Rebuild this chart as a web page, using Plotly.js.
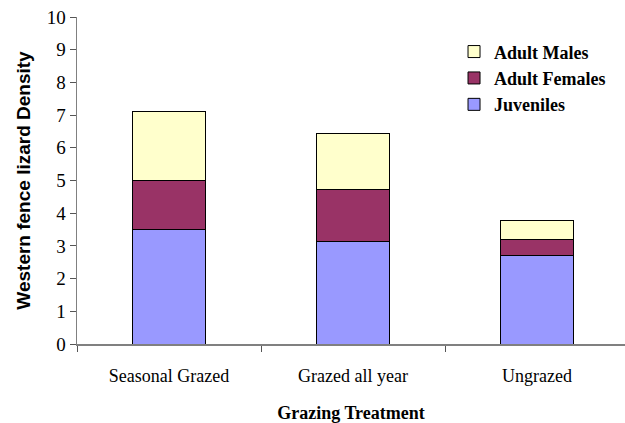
<!DOCTYPE html>
<html>
<head>
<meta charset="utf-8">
<script src="https://cdn.plot.ly/plotly-3.0.1.min.js"></script>
<style>
  html, body { margin: 0; padding: 0; background: #fff; }
  #chart { width: 625px; height: 423px; }
</style>
</head>
<body>
<div id="chart"></div>
<script>
// Grazing treatments on the category axis
const treatments = ["Seasonal Grazed", "Grazed all year", "Ungrazed"];

// Density per age/sex class, stacked bottom to top
const juveniles = [3.5, 3.13, 2.72];
const adultFemales = [1.5, 1.6, 0.47];
const adultMales = [2.1, 1.7, 0.6];

const yTicks = [0, 1, 2, 3, 4, 5, 6, 7, 8, 9, 10];

const serif = "Liberation Serif, Times New Roman, serif";
const barLine = { color: "#000000", width: 1 };

const traces = [
  { name: "Juveniles", y: juveniles, color: "#9999FF" },
  { name: "Adult Females", y: adultFemales, color: "#993366" },
  { name: "Adult Males", y: adultMales, color: "#FFFFCC" }
].map(s => ({
  type: "bar",
  x: treatments,
  y: s.y,
  name: s.name,
  width: 0.4,
  marker: { color: s.color, line: barLine },
  hoverinfo: "x+y+name"
}));

const layout = {
  width: 625,
  height: 423,
  barmode: "stack",
  paper_bgcolor: "#ffffff",
  plot_bgcolor: "#ffffff",
  margin: { l: 77, r: 0, t: 17, b: 79, pad: 0 },
  showlegend: true,
  legend: {
    traceorder: "reversed",
    x: 0.688, y: 0.95,
    xanchor: "left", yanchor: "top",
    bgcolor: "rgba(0,0,0,0)",
    borderwidth: 0,
    tracegroupgap: 0,
    itemwidth: 30,
    font: { family: serif, size: 18, color: "#000", weight: "bold" }
  },
  xaxis: {
    type: "category",
    range: [-0.5, 2.478],
    showline: true,
    linecolor: "#808080",
    linewidth: 1.5,
    ticks: "outside",
    tickson: "boundaries",
    ticklen: 6,
    tickcolor: "#555",
    ticklabelstandoff: 15,
    showgrid: false,
    zeroline: false,
    tickfont: { family: serif, size: 18, color: "#000" },
    title: {
      text: "Grazing Treatment",
      standoff: 21,
      font: { family: serif, size: 18, color: "#000", weight: "bold" }
    }
  },
  yaxis: {
    range: [0, 10],
    tickvals: yTicks,
    showline: true,
    linecolor: "#808080",
    linewidth: 1.5,
    ticks: "outside",
    ticklen: 6,
    tickcolor: "#555",
    showgrid: false,
    zeroline: false,
    tickfont: { family: serif, size: 19, color: "#000" },
    title: {
      text: "Western fence lizard Density",
      standoff: 11,
      font: { family: "Liberation Sans, Arial, sans-serif", size: 19, color: "#000", weight: "bold" }
    }
  }
};

Plotly.newPlot("chart", traces, layout, { displayModeBar: false, staticPlot: true });
</script>
</body>
</html>
